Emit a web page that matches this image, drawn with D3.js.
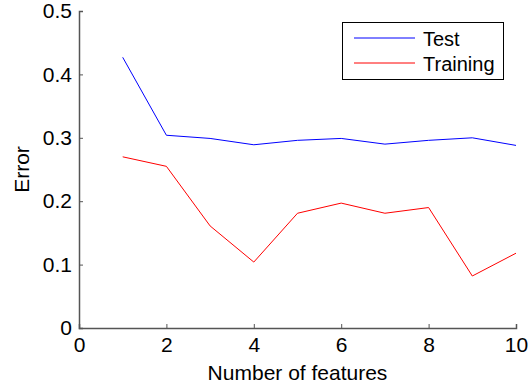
<!DOCTYPE html>
<html>
<head>
<meta charset="utf-8">
<script src="https://cdn.jsdelivr.net/npm/d3@7"></script>
<style>
  body { margin: 0; background: #fff; }
  svg { display: block; font-family: "Liberation Sans", Arial, Helvetica, sans-serif; }
</style>
</head>
<body>
<div id="chart"></div>
<script>
// datos
const features = [1, 2, 3, 4, 5, 6, 7, 8, 9, 10];
const testError = [0.427, 0.304, 0.299, 0.289, 0.296, 0.299, 0.290, 0.296, 0.300, 0.288];
const trainingError = [0.270, 0.255, 0.161, 0.104, 0.181, 0.197, 0.181, 0.190, 0.082, 0.118];
const xTicks = [0, 2, 4, 6, 8, 10];
const yTicks = [0, 0.1, 0.2, 0.3, 0.4, 0.5];
const seriesNames = ['Test', 'Training'];
const seriesColors = ['#0000ff', '#ff0000'];

const width = 531, height = 387;
const margin = { top: 11, right: 15, bottom: 59, left: 79 };

const svg = d3.select('#chart').append('svg')
  .attr('width', width).attr('height', height);

const x = d3.scaleLinear().domain([0, 10]).range([margin.left, width - margin.right]);
const y = d3.scaleLinear().domain([0, 0.5]).range([height - margin.bottom, margin.top]);

// ejes estilo MATLAB (ticks hacia dentro)
const xAxis = svg.append('g')
  .attr('transform', `translate(0,${y(0)})`)
  .call(d3.axisBottom(x).tickValues(xTicks).tickSize(-4).tickPadding(9).tickFormat(d3.format('d')));

const yAxis = svg.append('g')
  .attr('transform', `translate(${x(0)},0)`)
  .call(d3.axisLeft(y).tickValues(yTicks).tickSize(-4).tickPadding(7).tickFormat(d => d === 0 ? '0' : d3.format('.1f')(d)));

[xAxis, yAxis].forEach(g => {
  g.select('.domain').attr('stroke', '#555').attr('stroke-width', 1.5);
  g.selectAll('.tick line').attr('stroke', '#555');
  g.selectAll('.tick text').attr('fill', '#000').attr('font-size', 21)
    .attr('font-family', '"Liberation Sans", Arial, sans-serif');
});

// líneas
const line = d3.line().x((d, i) => x(features[i])).y(d => y(d));
[testError, trainingError].forEach((serie, k) => {
  svg.append('path').datum(serie)
    .attr('fill', 'none')
    .attr('stroke', seriesColors[k])
    .attr('stroke-width', 1)
    .attr('d', line);
});

// títulos de ejes
svg.append('text')
  .attr('x', x(5)).attr('y', 380)
  .attr('text-anchor', 'middle').attr('font-size', 21)
  .text('Number of features');

svg.append('text')
  .attr('transform', `translate(29,${y(0.25)}) rotate(-90)`)
  .attr('text-anchor', 'middle').attr('font-size', 21)
  .text('Error');

// leyenda
const legend = svg.append('g');
legend.append('rect')
  .attr('x', 342.5).attr('y', 22.5).attr('width', 161).attr('height', 57)
  .attr('fill', '#fff').attr('stroke', '#000').attr('stroke-width', 1);

seriesNames.forEach((name, k) => {
  const cy = 38 + k * 25;
  legend.append('line')
    .attr('x1', 354).attr('x2', 415).attr('y1', cy).attr('y2', cy)
    .attr('stroke', seriesColors[k]).attr('stroke-width', 1);
  legend.append('text')
    .attr('x', 423).attr('y', cy + 7.5)
    .attr('font-size', 20).text(name);
});
</script>
</body>
</html>
